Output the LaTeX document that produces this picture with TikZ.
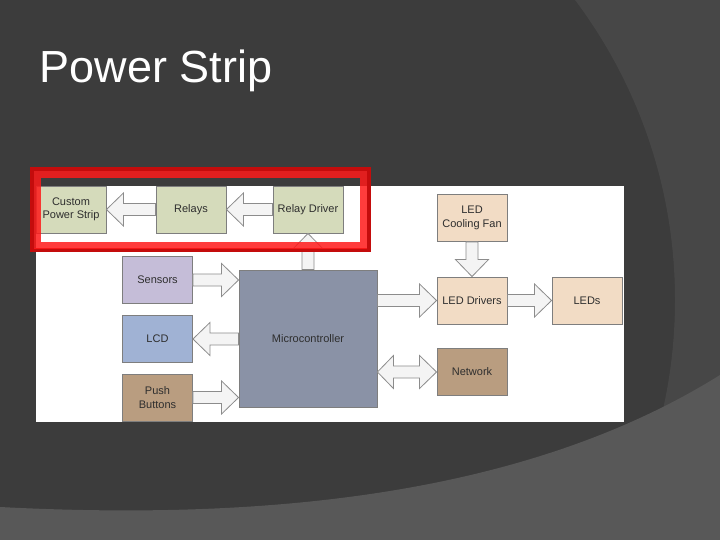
\documentclass[tikz,border=0pt]{standalone}
\usepackage{fontspec}
\setmainfont{Liberation Sans}
\usetikzlibrary{calc}
\definecolor{bgbase}{HTML}{3C3C3C}
\definecolor{bgright}{HTML}{474747}
\definecolor{bgbottom}{HTML}{585858}
\definecolor{greenc}{HTML}{D5DBBB}
\definecolor{sensc}{HTML}{C5BDD8}
\definecolor{lcdc}{HTML}{A0B2D4}
\definecolor{brownc}{HTML}{B99D80}
\definecolor{microc}{HTML}{8A92A6}
\definecolor{peachc}{HTML}{F2DCC5}
\definecolor{boxline}{HTML}{7E7E7E}
\definecolor{txtc}{HTML}{2E2E2E}
\definecolor{arrfill}{HTML}{F4F4F4}
\definecolor{arrline}{HTML}{8C8C8C}
\definecolor{darkred}{HTML}{C40C0C}
\definecolor{brightred}{HTML}{FF1A1A}
\newcommand\barrow[2]{\draw[arr] let \p1=#1, \p2=#2,
  \n1={veclen(\x2-\x1,\y2-\y1)}, \n2={atan2(\y2-\y1,\x2-\x1)} in
  [shift={(\p1)},rotate=\n2] (0,-6) -- (\n1-17,-6) -- (\n1-17,-16.5) -- (\n1,0)
  -- (\n1-17,16.5) -- (\n1-17,6) -- (0,6) -- cycle;}
\newcommand\dbarrow[2]{\draw[arr] let \p1=#1, \p2=#2,
  \n1={veclen(\x2-\x1,\y2-\y1)}, \n2={atan2(\y2-\y1,\x2-\x1)} in
  [shift={(\p1)},rotate=\n2] (0,0) -- (16,-16.5) -- (16,-6) -- (\n1-17,-6) -- (\n1-17,-16.5) -- (\n1,0)
  -- (\n1-17,16.5) -- (\n1-17,6) -- (16,6) -- (16,16.5) -- cycle;}
\begin{document}
\begin{tikzpicture}[x=1pt,y=-1pt,
  box/.style={draw=boxline, line width=0.9pt, minimum width=70pt, minimum height=47pt,
    inner sep=0pt, align=center, text=txtc, font=\fontsize{11}{13.5}\selectfont},
  gbox/.style={box, fill=greenc},
  pbox/.style={box, fill=peachc},
  arr/.style={draw=arrline, fill=arrfill, line width=0.8pt, line join=miter}]
\useasboundingbox (0,0) rectangle (720,540);
\fill[bgbase] (0,0) rectangle (720,540);
\begin{scope}
\clip (0,0) rectangle (720,540);
\fill[bgright,even odd rule] (-100,-100) rectangle (820,640) (175,300) circle (500);
\fill[bgbottom] (0,540) -- (0,507) .. controls (250,520) and (520,500) .. (720,375) -- (720,540) -- cycle;
\end{scope}
\node[anchor=base west, inner sep=0pt, text=white, font=\fontsize{45}{54}\selectfont] (title) at (39.5,83) {Power Strip};
\fill[white] (36,186) rectangle (624,422);
% boxes
\node[gbox] (cps) at (71,209.5) {Custom\\Power Strip};
\node[gbox] (rel) at (191,209.5) {Relays};
\node[gbox] (rd) at (308,209.5) {Relay Driver};
\node[box, fill=sensc] (sen) at (157.5,280) {Sensors};
\node[box, fill=lcdc] (lcd) at (157.5,339) {LCD};
\node[box, fill=brownc] (pb) at (157.5,397.5) {Push\\Buttons};
\node[box, fill=microc, minimum width=138pt, minimum height=137pt] (mc) at (308,338.5) {Microcontroller};
\node[pbox] (fan) at (472,218) {LED\\Cooling Fan};
\node[pbox] (drv) at (472,300.5) {LED Drivers};
\node[pbox] (leds) at (587,300.5) {LEDs};
\node[box, fill=brownc] (net) at (472,372) {Network};
% arrows
\barrow{(rel.west)}{(cps.east)}
\barrow{(rd.west)}{(rel.east)}
\barrow{(mc.north)}{(rd.south)}
\barrow{(sen.east)}{(sen.east -| mc.west)}
\barrow{(lcd.east -| mc.west)}{(lcd.east)}
\barrow{(pb.east)}{(pb.east -| mc.west)}
\barrow{(fan.south)}{(drv.north)}
\barrow{(drv.west -| mc.east)}{(drv.west)}
\barrow{(drv.east)}{(leds.west)}
\dbarrow{(net.west -| mc.east)}{(net.west)}
% red highlight frame
\draw[darkred, line width=4pt] (32,169) rectangle (369,250);
\draw[brightred, opacity=0.85, line width=7pt] (37.5,174.5) rectangle (363.5,245.5);
\end{tikzpicture}
\end{document}
